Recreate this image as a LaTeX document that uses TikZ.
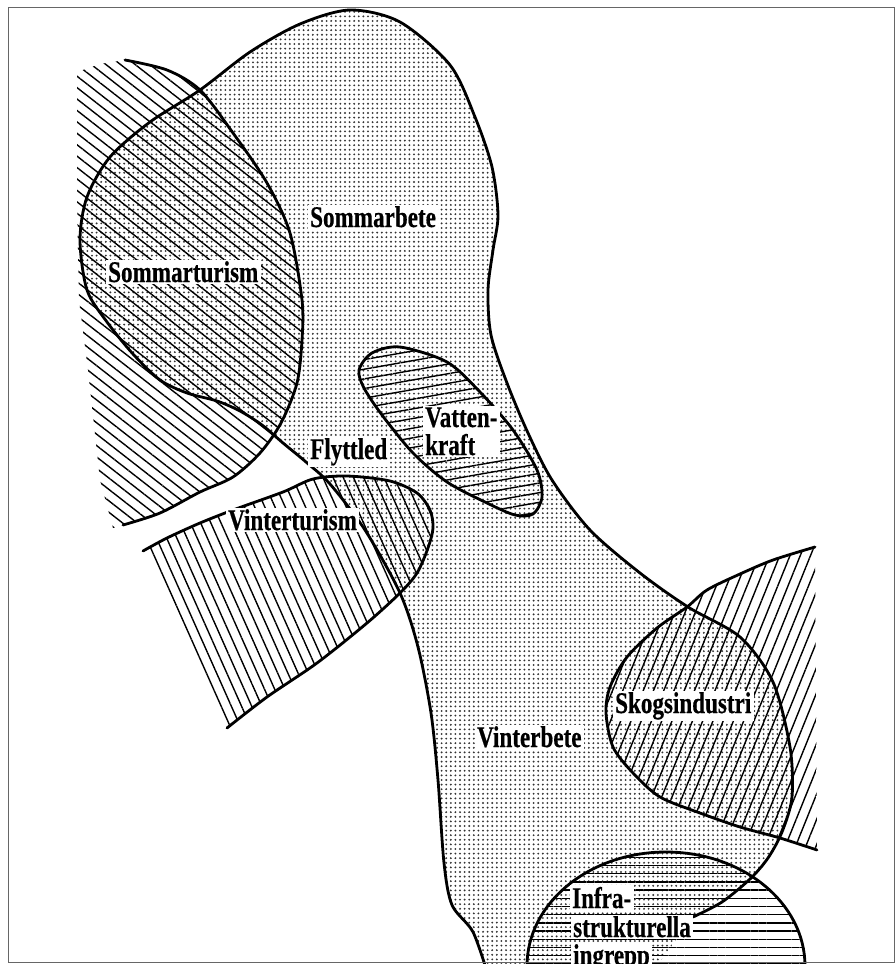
\documentclass[tikz,border=0pt]{standalone}
\usepackage{fontspec}
\setmainfont{Liberation Serif}
\newfontfamily\lblfont{Liberation Serif}[FakeStretch=0.77, BoldFeatures={FakeBold=0.5}]
\usetikzlibrary{patterns.meta}
\begin{document}
\begin{tikzpicture}[x=1pt,y=-1pt,
  outline/.style={line width=2.8pt, line join=round, line cap=round},
  dotfill/.style={pattern={Dots[distance=4.6pt, radius=1.05pt]}, pattern color=black!80},
  hatchtur/.style={pattern={Lines[angle=-38, distance=9pt, line width=1.4pt]}},
  hatchvin/.style={pattern={Lines[angle=-66, distance=9.3pt, line width=1.4pt]}},
  hatchskog/.style={pattern={Lines[angle=68, distance=9.5pt, line width=1.4pt]}},
  hatchvatten/.style={pattern={Lines[angle=10, distance=9.5pt, line width=1.4pt]}},
  hatchinfra/.style={pattern={Lines[angle=0, distance=8.2pt, line width=1.4pt]}},
  lbl/.style={fill=white, inner xsep=2.5pt, inner ysep=1.5pt, anchor=base west,
    text=black, font=\lblfont\bfseries\fontsize{30}{28}\selectfont}
]
\useasboundingbox (0,0) rectangle (896,964);
\fill[white] (0,0) rectangle (896,964);

% ---- dotted grazing area (Sommarbete / Vinterbete)
\def\blobpts{(488,975) (473,932) (452,905) (444,863) (438,780) (431,713) (418,647) (400,593) (365,530) (330,484) (306,462) (283,443) (262,425) (240,411) (217,401) (187,393) (160,380) (133,354) (107,322) (87,290) (80,240) (87,197) (110,157) (150,122) (200,90) (250,52) (300,24) (350,10) (400,22) (450,65) (475,117) (492,167) (498,215) (493,250) (488,290) (491,335) (507,383) (528,433) (552,480) (590,530) (640,573) (688,607) (740,637) (773,682) (790,747) (792,797) (782,832) (768,858) (750,879) (722,902) (693,917)}
\path[dotfill] plot[smooth] coordinates {\blobpts} -- (650,975) -- cycle;

% ---- hatched regions
\def\turpts{(125,60) (167,70) (200,90) (233,133) (267,183) (290,233) (302,300) (302,340) (297,383) (281,423) (260,453) (233,477) (200,492) (160,513) (123,525)}
\path[hatchtur] plot[smooth] coordinates {\turpts} -- (113,528) -- (100,480) -- (88,370) -- (79,300) -- (77,200) -- (77,72) -- (100,64) -- cycle;

\def\vinpts{(143,551) (167,538) (200,523) (233,510) (283,492) (313,479) (347,476) (390,481) (417,493) (430,510) (433,528) (428,548) (417,573) (400,593) (367,623) (317,663) (267,697) (227,728)}
\path[hatchvin] plot[smooth] coordinates {\vinpts} -- cycle;

\def\skogpts{(815,547) (773,560) (740,574) (707,590) (687,607) (657,628) (627,657) (610,687) (606,713) (613,747) (633,773) (660,797) (700,813) (740,827) (780,838) (817,850)}
\path[hatchskog] plot[smooth] coordinates {\skogpts} -- cycle;

\def\vatpts{(359,370) (372,353) (400,347) (447,362) (480,392) (513,430) (537,470) (542,497) (533,514) (515,515) (487,503) (447,482) (413,453) (382,415) (364,388)}
\path[hatchvatten] plot[smooth cycle] coordinates {\vatpts};

\path[hatchinfra] (666,966) ellipse [x radius=139pt, y radius=114pt];

% ---- outlines
\draw[outline] plot[smooth] coordinates {\blobpts};
\draw[outline] plot[smooth] coordinates {\turpts};
\draw[outline] plot[smooth] coordinates {\vinpts};
\draw[outline] plot[smooth] coordinates {\skogpts};
\draw[outline] plot[smooth cycle] coordinates {\vatpts};
\draw[outline] (666,966) ellipse [x radius=139pt, y radius=114pt];

% ---- frame
\draw[black!60, line width=1pt] (8,7) rectangle (894,962);

% ---- labels
\node[lbl] (sommarbete) at (307.5,227) {Sommarbete};
\node[lbl] (sommarturism) at (105.5,282) {Sommarturism};
\node[lbl] (flyttled) at (307.5,459) {Flyttled};
\node[lbl, align=left] (vattenkraft) at (422.5,455) {Vatten-\\kraft};
\node[lbl] (vinterturism) at (225.5,530) {Vinterturism};
\node[lbl] (vinterbete) at (474.5,747) {Vinterbete};
\node[lbl] (skogsindustri) at (612.5,713) {Skogsindustri};
\node[lbl] (infra1) at (569.5,908) {Infra-};
\node[lbl] (infra2) at (570.5,937) {strukturella};
\node[lbl] (infra3) at (570.5,965) {ingrepp};
\end{tikzpicture}
\end{document}
